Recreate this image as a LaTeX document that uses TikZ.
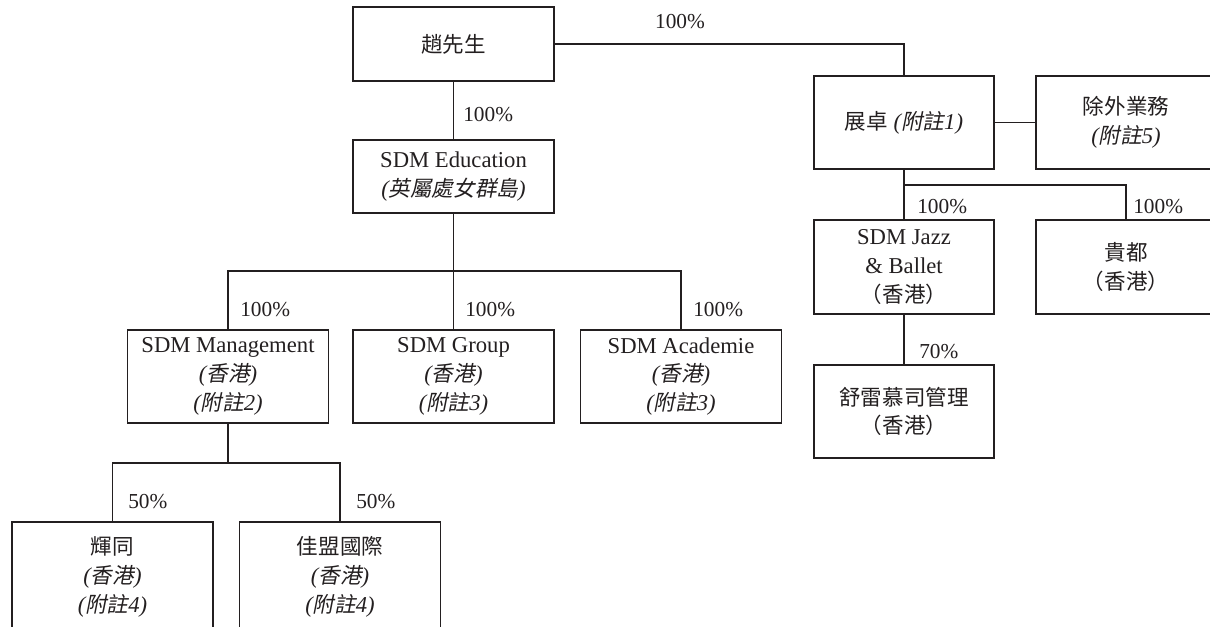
\documentclass[tikz,border=0pt]{standalone}
\usepackage{fontspec}
\setmainfont{Liberation Serif}
\newfontfamily\cjk[Scale=0.95]{Noto Sans CJK TC}
\newfontfamily\cjkit[Scale=0.95,FakeSlant=0.2]{Noto Sans CJK TC}
\newcommand{\zh}[1]{{\cjk #1}}
\newcommand{\zhi}[1]{{\cjkit #1}}
\newcommand{\itp}[1]{{\itshape(}\zhi{#1}{\itshape)}}
\newcommand{\note}[1]{{\itshape(}\zhi{附註}{\itshape #1)}}
\definecolor{ink}{RGB}{35,31,32}
\begin{document}
\begin{tikzpicture}[x=0.75pt,y=-0.75pt,
  box/.style={draw=ink,line width=1pt,fill=white,text=ink,align=center,inner sep=0pt,
    font=\fontsize{17pt}{21.5pt}\selectfont},
  wbox/.style={box,minimum width=201*0.75pt},
  nbox/.style={box,minimum width=180*0.75pt},
  pctc/.style={text=ink,inner sep=0pt,font=\fontsize{16pt}{20pt}\selectfont},
  pct/.style={pctc,anchor=west},
  link/.style={draw=ink,line width=1pt}]
\useasboundingbox (0,0) rectangle (1210,626);
\clip (0,0) rectangle (1210,626);

% boxes
\node[wbox,minimum height=74*0.75pt] (zhao) at (453.5,44) {\zh{趙先生}};
\node[wbox,minimum height=73*0.75pt] (edu) at (453.5,176.5) {SDM Education\\\itp{英屬處女群島}};
\node[nbox,minimum height=93*0.75pt] (zz) at (904,122.5) {\zh{展卓} \note{1}};
\node[nbox,minimum height=93*0.75pt] (excl) at (1126,122.5) {\zh{除外業務}\\\note{5}};
\node[nbox,minimum height=94*0.75pt] (jazz) at (904,267) {SDM Jazz\\\& Ballet\\\zh{（香港）}};
\node[nbox,minimum height=94*0.75pt] (guidu) at (1126,267) {\zh{貴都}\\\zh{（香港）}};
\node[nbox,minimum height=93*0.75pt] (shu) at (904,411.5) {\zh{舒雷慕司管理}\\\zh{（香港）}};
\node[wbox,minimum height=93*0.75pt] (mgmt) at (228,376.5) {SDM Management\\\itp{香港}\\\note{2}};
\node[wbox,minimum height=93*0.75pt] (group) at (453.5,376.5) {SDM Group\\\itp{香港}\\\note{3}};
\node[wbox,minimum height=93*0.75pt] (acad) at (681,376.5) {SDM Academie\\\itp{香港}\\\note{3}};
\node[wbox,minimum height=110*0.75pt] (huitong) at (112.5,577) {\zh{輝同}\\\itp{香港}\\\note{4}};
\node[wbox,minimum height=110*0.75pt] (jiameng) at (340,577) {\zh{佳盟國際}\\\itp{香港}\\\note{4}};

% junctions
\coordinate (eduj) at (453.5,271);
\coordinate (zzj) at (904,185);
\coordinate (mj) at (228,463);

% connectors
\draw[link] (zhao.east) -| (zz.north);
\draw[link] (zhao.south) -- (edu.north);
\draw[link] (edu.south) -- (eduj);
\draw[link] (mgmt.north) |- (eduj) -| (acad.north);
\draw[link] (eduj) -- (group.north);
\draw[link] (zz.east) -- (excl.west);
\draw[link] (zz.south) -- (jazz.north);
\draw[link] (zzj) -| (guidu.north);
\draw[link] (jazz.south) -- (shu.north);
\draw[link] (mgmt.south) -- (mj);
\draw[link] (huitong.north) |- (mj) -| (jiameng.north);

% percentages
\node[pctc] (p0) at (680,22) {100\%};
\node[pct] (p1) at (463,115) {100\%};
\node[pct] (p2) at (240,310) {100\%};
\node[pct] (p3) at (465,310) {100\%};
\node[pct] (p4) at (693,310) {100\%};
\node[pct] (p5) at (917,207) {100\%};
\node[pct] (p6) at (1133,207) {100\%};
\node[pct] (p7) at (919,352) {70\%};
\node[pct] (p8) at (128,502) {50\%};
\node[pct] (p9) at (356,502) {50\%};
\end{tikzpicture}
\end{document}
